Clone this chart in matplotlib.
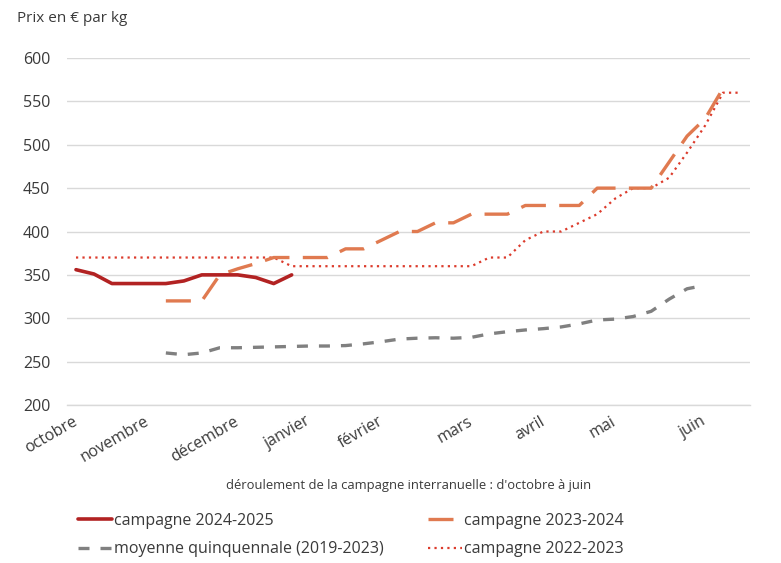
import matplotlib
matplotlib.use("Agg")
import matplotlib.pyplot as plt
import numpy as np

plt.rcParams['font.family'] = ['Open Sans', 'DejaVu Sans']

# weekly categories, week 40 (early October) to week 25 (June)
n_weeks = 38
month_labels = ["octobre", "novembre", "décembre", "janvier", "février",
                "mars", "avril", "mai", "juin"]
month_pos = [0, 4, 9, 13, 17, 22, 26, 30, 35]

c2425 = [356, 351, 340, 340, 340, 340, 343, 350, 350, 350, 347, 340, 350]

c2324 = [None, None, None, None, None,
         320, 320, 320, 350, 357, 363, 370, 370, 370, 370, 380, 380, 390,
         400, 400, 410, 410, 420, 420, 420, 430, 430, 430, 430, 450, 450,
         450, 450, 480, 510, 530, 565, None]

c2223 = [370, 370, 370, 370, 370, 370, 370, 370, 370, 370, 370, 370,
         360, 360, 360, 360, 360, 360, 360, 360, 360, 360, 360,
         370, 370, 390, 400, 400, 410, 420, 438, 450, 450,
         462, 491, 522, 560, 560]

moyenne = [None, None, None, None, None,
           260, 258, 260, 266, 266, 266.5, 267, 267.5, 268, 268, 268.5,
           270.5, 273, 276, 277, 277.5, 277, 278, 282, 284.5, 286.5, 288,
           290, 293.5, 298, 299, 302, 308, 322, 334, 338, None, None]

def arr(v):
    return np.array([np.nan if x is None else x for x in v], dtype=float)

W, H = 781, 563
fig = plt.figure(figsize=(W / 100, H / 100), dpi=100)
ax = fig.add_axes([67 / W, 1 - 405 / H, (750 - 67) / W, (405 - 58) / H])

x_all = np.arange(n_weeks)
grey_txt = "#3a3a3a"

l1, = ax.plot(np.arange(len(c2425)), c2425, color="#b22222", lw=2.6,
              solid_capstyle="round", solid_joinstyle="round", zorder=5)
l2, = ax.plot(x_all, arr(c2324), color="#e07a50", lw=2.4,
              dashes=(7.5, 4), zorder=4)
l3, = ax.plot(x_all, arr(moyenne), color="#808080", lw=2.4,
              dashes=(3.3, 3.3), zorder=3)
l4, = ax.plot(x_all, arr(c2223), color="#dc3b2c", lw=1.6,
              dashes=(1, 1.9), zorder=3)

ax.set_xlim(-0.5, n_weeks - 0.5)
ax.set_ylim(200, 600)
ax.set_yticks(np.arange(200, 601, 50))
ax.grid(axis="y", color="#d9d9d9", lw=1)
ax.set_axisbelow(True)
for s in ["top", "right", "left"]:
    ax.spines[s].set_visible(False)
ax.spines["bottom"].set_color("#d9d9d9")
ax.spines["bottom"].set_linewidth(1)
ax.tick_params(axis="y", length=0, pad=12, labelsize=11.5, labelcolor=grey_txt)
ax.set_xticks(month_pos)
ax.set_xticklabels(month_labels, rotation=30, ha="right", va="center",
                   rotation_mode="anchor", fontsize=11.5, color=grey_txt)
ax.tick_params(axis="x", length=0, pad=11)

fig.text(409 / W, 1 - 485 / H,
         "déroulement de la campagne interranuelle : d'octobre à juin",
         ha="center", va="center", fontsize=9.4, color=grey_txt)
fig.text(17 / W, 1 - 18 / H, "Prix en € par kg", ha="left", va="center",
         fontsize=11, color=grey_txt)

leg_kw = dict(frameon=False, fontsize=11.5, handlelength=2.1, handletextpad=0.15,
              labelspacing=0.78, borderpad=0, borderaxespad=0,
              labelcolor=grey_txt, loc="upper left")
fig.legend([l1, l3], ["campagne 2024-2025", "moyenne quinquennale (2019-2023)"],
           bbox_to_anchor=(78 / W, 1 - 513 / H), **leg_kw)
fig.legend([l2, l4], ["campagne 2023-2024", "campagne 2022-2023"],
           bbox_to_anchor=(428 / W, 1 - 513 / H), **leg_kw)

fig.savefig("out.png", dpi=100)
